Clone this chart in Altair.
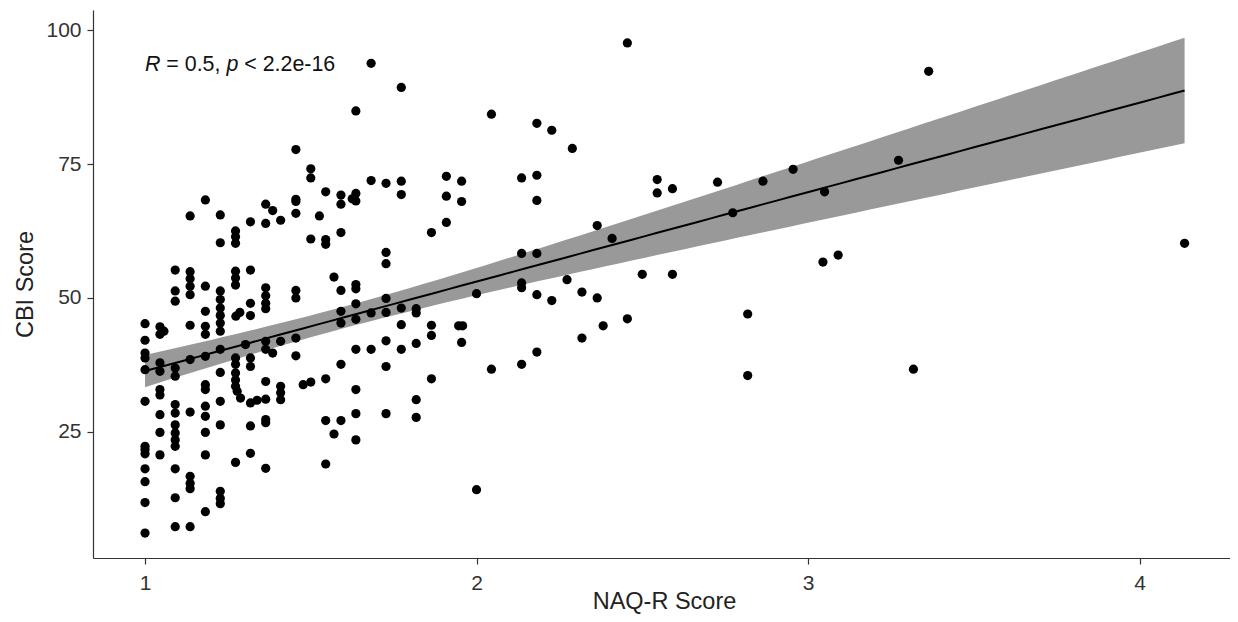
import altair as alt
import numpy as np
import pandas as pd

# NAQ-R score levels (x) and the CBI scores observed at each level (y)
naq_levels = [1.0, 1.045, 1.057, 1.091, 1.136, 1.182, 1.227, 1.273, 1.274, 1.278,
              1.286, 1.288, 1.303, 1.318, 1.338, 1.364, 1.385, 1.409, 1.455, 1.477,
              1.5, 1.526, 1.545, 1.57, 1.591, 1.625, 1.636, 1.682, 1.727, 1.773,
              1.818, 1.864, 1.909, 1.946, 1.955, 1.958, 2.0, 2.045, 2.136, 2.182,
              2.227, 2.273, 2.289, 2.318, 2.364, 2.382, 2.409, 2.455, 2.5, 2.545,
              2.591, 2.727, 2.773, 2.818, 2.864, 2.955, 3.045, 3.05, 3.091, 3.273,
              3.318, 3.364, 4.136]

cbi_by_level = [
    [45.2, 42.1, 39.7, 38.8, 36.6, 30.7, 22.3, 21.7, 20.9, 18.1, 15.7, 11.8, 6.1],
    [44.6, 43.2, 37.9, 36.3, 32.9, 31.9, 28.2, 24.9, 20.7],
    [43.8],
    [55.2, 51.3, 49.4, 36.9, 35.4, 30.1, 28.5, 26.3, 24.8, 23.5, 22.3, 18.1, 12.7, 7.3],
    [65.3, 54.9, 53.6, 52.2, 50.6, 44.9, 38.5, 28.7, 16.7, 15.4, 14.4, 7.3],
    [68.3, 52.2, 47.5, 44.7, 43.2, 39.1, 33.8, 32.9, 29.8, 27.9, 24.9, 20.7, 10.1],
    [65.5, 60.3, 51.3, 49.7, 48.1, 46.7, 45.3, 43.8, 40.4, 36.1, 30.7, 26.3, 13.9, 12.6, 11.6],
    [62.5, 61.4, 60.2, 55.0, 53.7, 52.4, 38.8, 37.6, 36.0, 34.7, 33.5, 19.3],
    [46.6],
    [32.6],
    [47.3],
    [31.3],
    [41.3],
    [64.2, 55.2, 49.0, 46.7, 38.8, 37.2, 30.4, 26.1, 21.0],
    [30.9],
    [67.5, 63.9, 51.9, 50.4, 49.0, 48.0, 41.9, 40.4, 34.4, 31.1, 27.3, 26.7, 18.2],
    [66.3, 39.7],
    [64.5, 41.9, 33.5, 32.3, 31.0],
    [77.7, 68.4, 68.0, 65.8, 51.4, 50.0, 42.5, 39.2],
    [33.8],
    [74.1, 72.4, 61.0, 34.3],
    [65.3],
    [69.8, 60.9, 60.0, 34.9, 27.1, 19.0],
    [53.9, 24.6],
    [69.2, 67.5, 62.2, 51.4, 47.5, 45.3, 37.6, 27.1],
    [68.5],
    [84.9, 69.5, 68.1, 52.5, 51.7, 48.9, 46.0, 40.4, 32.9, 28.4, 23.5],
    [93.8, 71.9, 47.2, 40.4],
    [71.4, 58.5, 56.4, 49.9, 47.3, 42.0, 37.2, 28.4],
    [89.3, 71.8, 69.3, 48.1, 45.0, 40.4],
    [48.0, 47.2, 41.5, 31.0, 27.7],
    [62.2, 44.9, 43.0, 34.9],
    [72.7, 69.0, 64.1],
    [44.8],
    [71.8, 68.0, 41.7],
    [44.8],
    [50.8, 14.2],
    [84.3, 36.7],
    [72.4, 58.3, 52.8, 51.9, 37.6],
    [82.6, 72.9, 68.2, 58.3, 50.6, 39.9],
    [81.3, 49.5],
    [53.4],
    [77.9],
    [51.1, 42.5],
    [63.5, 50.0],
    [44.8],
    [61.1],
    [97.6, 46.1],
    [54.4],
    [72.1, 69.6],
    [70.4, 54.4],
    [71.6],
    [65.9],
    [47.0, 35.5],
    [71.8],
    [74.0],
    [56.7],
    [69.8],
    [58.0],
    [75.7],
    [36.7],
    [92.3],
    [60.2],
]

x_ticks = [1, 2, 3, 4]
y_ticks = [25, 50, 75, 100]
x_title = "NAQ-R Score"
y_title = "CBI Score"
label_parts = ["R", "= 0.5,", "p", "< 2.2e-16"]

rows = []
for lvl, ys in zip(naq_levels, cbi_by_level):
    for v in ys:
        rows.append({"naq": lvl, "cbi": v})
points = pd.DataFrame(rows)

# linear fit with 95% confidence band
xv = points["naq"].to_numpy()
yv = points["cbi"].to_numpy()
n = len(xv)
slope, intercept = np.polyfit(xv, yv, 1)
resid = yv - (intercept + slope * xv)
s = np.sqrt((resid ** 2).sum() / (n - 2))
xm = xv.mean()
sxx = ((xv - xm) ** 2).sum()
xs = np.linspace(xv.min(), xv.max(), 80)
fit = intercept + slope * xs
se = s * np.sqrt(1.0 / n + (xs - xm) ** 2 / sxx)
tq = 1.968
smooth = pd.DataFrame({"naq": xs, "fit": fit, "lo": fit - tq * se, "hi": fit + tq * se})

FONT = "Liberation Sans"
xscale = alt.Scale(domain=[0.843, 4.273], nice=False, zero=False)
yscale = alt.Scale(domain=[1.45, 103.75], nice=False, zero=False)

xaxis = alt.Axis(values=x_ticks, title=x_title, grid=False, labelFontSize=21,
                 labelColor="#333333", labelFont=FONT, labelBaseline="alphabetic",
                 labelPadding=25, tickSize=6, tickColor="#333333", tickWidth=1.2,
                 domainColor="#333333", domainWidth=1.2, titleFont=FONT,
                 titleFontSize=23.5, titleFontWeight="normal", titleColor="#222222",
                 titleBaseline="alphabetic", titleY=50, titleX=571, format="d")
yaxis = alt.Axis(values=y_ticks, title=y_title, grid=False, labelFontSize=21,
                 labelColor="#333333", labelFont=FONT, labelPadding=6,
                 tickSize=6, tickColor="#333333", tickWidth=1.2,
                 domainColor="#333333", domainWidth=1.2, titleFont=FONT,
                 titleFontSize=23.5, titleFontWeight="normal", titleColor="#222222",
                 titleAngle=-90, titleBaseline="alphabetic", titleAlign="center",
                 titleX=-61, titleY=274, format="d")

band = alt.Chart(smooth).mark_area(color="#999999", opacity=1).encode(
    x=alt.X("naq:Q", scale=xscale, axis=xaxis),
    y=alt.Y("lo:Q", scale=yscale, axis=yaxis),
    y2="hi:Q",
)
line = alt.Chart(smooth).mark_line(color="#000000", strokeWidth=2).encode(
    x=alt.X("naq:Q", scale=xscale),
    y=alt.Y("fit:Q", scale=yscale),
)
dots = alt.Chart(points).mark_circle(color="#000000", opacity=1, size=85).encode(
    x=alt.X("naq:Q", scale=xscale),
    y=alt.Y("cbi:Q", scale=yscale),
)

ann = pd.DataFrame({"naq": [1.0], "cbi": [92.4]})
offsets = [0, 21.3, 81.4, 99.2]
styles = ["italic", "normal", "italic", "normal"]
texts = []
for part, dx, st in zip(label_parts, offsets, styles):
    texts.append(
        alt.Chart(ann).mark_text(text=part, align="left", baseline="alphabetic",
                                 dx=dx, font=FONT, fontSize=21.4, fontStyle=st,
                                 color="#111111").encode(
            x=alt.X("naq:Q", scale=xscale),
            y=alt.Y("cbi:Q", scale=yscale),
        )
    )

chart = alt.layer(band, line, dots, *texts).properties(
    width=1137, height=548,
    autosize=alt.AutoSizeParams(type="none"),
    padding={"left": 85, "top": 2, "right": 0, "bottom": 56},
).configure_view(stroke=None)

chart.save("out.html", embed_options={"renderer": "svg", "actions": False})
